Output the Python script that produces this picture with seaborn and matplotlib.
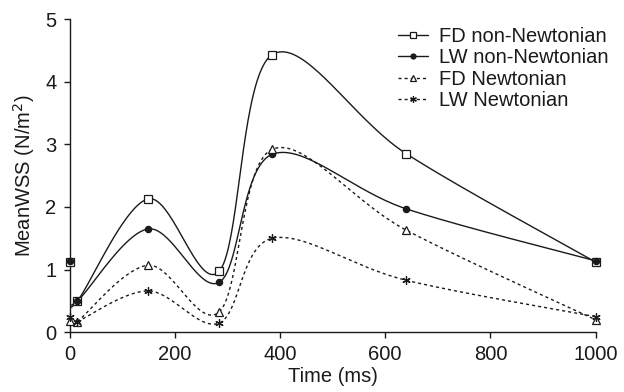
import numpy as np
import pandas as pd
import seaborn as sns
import matplotlib
matplotlib.use("Agg")
import matplotlib.pyplot as plt
from matplotlib.lines import Line2D

# values
time = [15, 150, 285, 385, 640, 1000]
fd_non_newtonian = [0.50, 2.13, 0.98, 4.43, 2.85, 1.12]
lw_non_newtonian = [0.50, 1.65, 0.80, 2.84, 1.97, 1.14]
fd_newtonian = [0.17, 1.07, 0.33, 2.92, 1.63, 0.20]
lw_newtonian = [0.17, 0.66, 0.15, 1.50, 0.83, 0.25]

# lone markers at t = 0
time0 = 0
start_values = [1.12, 1.14, 0.18, 0.25]
# solid curves begin at the axis slightly above the first point
lead_in = [0.55, 0.55, None, None]

names = ["FD non-Newtonian", "LW non-Newtonian", "FD Newtonian", "LW Newtonian"]
series = [fd_non_newtonian, lw_non_newtonian, fd_newtonian, lw_newtonian]


def smooth(xs, ys, n=40):
    # excel-like smoothed line (bezier with 1/6 neighbour tangents)
    p = np.column_stack([xs, ys]).astype(float)
    out = [p[0]]
    for i in range(len(p) - 1):
        prev = p[i - 1] if i > 0 else p[i]
        nxt = p[i + 2] if i + 2 < len(p) else p[i + 1]
        c1 = p[i] + (p[i + 1] - prev) / 6
        c2 = p[i + 1] - (nxt - p[i]) / 6
        t = np.linspace(0, 1, n)[1:, None]
        seg = ((1 - t) ** 3 * p[i] + 3 * (1 - t) ** 2 * t * c1
               + 3 * (1 - t) * t ** 2 * c2 + t ** 3 * p[i + 1])
        out.extend(seg)
    out = np.array(out)
    return out[:, 0], out[:, 1]


sns.set_style("ticks")
plt.rcParams['font.family'] = ['Liberation Sans', 'DejaVu Sans']

fig = plt.figure(figsize=(6.24, 3.92), dpi=100)
ax = fig.add_axes([0.1114, 0.1523, 0.8432, 0.7992])

col = "#1a1a1a"
fs = 14.5
styles = [
    dict(ls="-", marker="s", ms=6, mfc="white"),
    dict(ls="-", marker="o", ms=4.5, mfc=col),
    dict(ls=(0, (2.2, 2.2)), marker="^", ms=6, mfc="white"),
    dict(ls=(0, (2.2, 2.2)), marker=(6, 2, 0), ms=6, mfc=col),
]

handles = []
for vals, name, st, v0, lead in zip(series, names, styles, start_values, lead_in):
    xs, ys = list(time), list(vals)
    if lead is not None:
        xs = [time0] + xs
        ys = [lead] + ys
    sx, sy = smooth(xs, ys)
    df = pd.DataFrame({"t": sx, "v": sy})
    sns.lineplot(data=df, x="t", y="v", sort=False, estimator=None, ax=ax,
                 color=col, lw=1.0, linestyle=st["ls"])
    ax.plot(time, vals, ls="none", marker=st["marker"], ms=st["ms"],
            mfc=st["mfc"], mec=col, mew=0.9, color=col, clip_on=False, zorder=5)
    ax.plot([time0], [v0], ls="none", marker=st["marker"], ms=st["ms"],
            mfc=st["mfc"], mec=col, mew=0.9, color=col, clip_on=False, zorder=5)
    handles.append(Line2D([], [], color=col, lw=1.0, ls=st["ls"], marker=st["marker"],
                          ms=st["ms"] * 0.8, mfc=st["mfc"], mec=col, mew=0.9, label=name))

ax.set_xlim(0, 1000)
ax.set_ylim(0, 5)
ax.set_xticks(range(0, 1001, 200))
ax.set_yticks(range(0, 6))
ax.tick_params(axis="both", labelsize=fs, colors=col, length=4.5, width=1,
               direction="out", pad=5)
for s in ["left", "bottom"]:
    ax.spines[s].set_color(col)
    ax.spines[s].set_linewidth(1)
sns.despine(ax=ax)

ax.set_xlabel("Time (ms)", fontsize=fs, color=col, labelpad=2)
ax.set_ylabel("MeanWSS (N/m$^2$)", fontsize=fs, color=col, labelpad=6)

ax.legend(handles=handles, loc="upper left", bbox_to_anchor=(0.625, 0.952),
          bbox_transform=fig.transFigure, frameon=False, fontsize=fs,
          handlelength=1.5, handletextpad=0.55, labelspacing=0.12,
          borderaxespad=0, labelcolor=col)

fig.savefig("out.png", dpi=100)
